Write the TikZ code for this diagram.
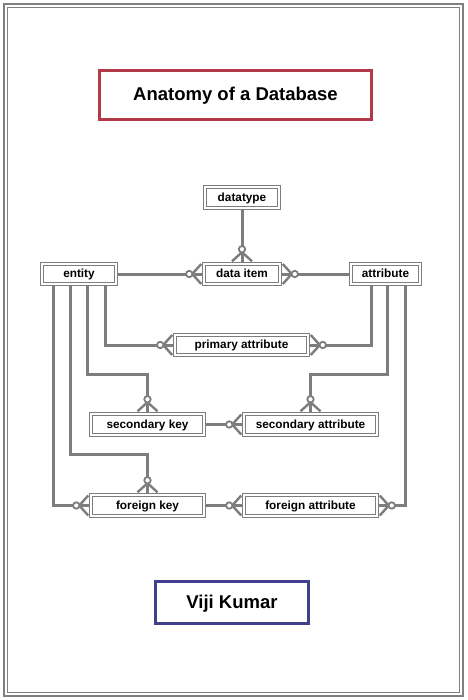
\documentclass[tikz,border=0pt]{standalone}
\usepackage{fontspec}
\setmainfont{Liberation Sans}
\usetikzlibrary{calc}
\pgfdeclarelayer{background}
\pgfsetlayers{background,main}
\definecolor{linegray}{RGB}{125,125,125}
\definecolor{titlered}{RGB}{178,58,72}
\definecolor{nameblue}{RGB}{64,64,140}
\tikzset{
  ent/.style={draw=linegray, double=white, double distance=1.2pt, line width=1.5pt,
    fill=white, font=\fontsize{11.8}{14}\selectfont\bfseries, inner sep=0pt, minimum height=20pt,
    text height=8.5pt, text depth=0.8pt},
  conn/.style={draw=linegray, line width=3pt},
  foot/.style={draw=linegray, line width=2.4pt},
  ringst/.style={draw=linegray, line width=1.8pt, fill=white},
  titlebox/.style={line width=2.6pt, inner sep=0pt, font=\fontsize{18.5}{22}\selectfont\bfseries,
    text height=13.5pt, text depth=2pt}
}
\newcommand{\crow}[3]{%
  \draw[foot] ($(#1)+({11*(#2)},{11*(#3)})$) -- ($(#1)+({2*(#2)+10*(#3)},{2*(#3)+10*(#2)})$);
  \draw[foot] ($(#1)+({11*(#2)},{11*(#3)})$) -- ($(#1)+({2*(#2)-10*(#3)},{2*(#3)-10*(#2)})$);
  \draw[ringst] ($(#1)+({14*(#2)},{14*(#3)})$) circle (3.2pt);
}
\begin{document}
\begin{tikzpicture}[x=1pt,y=-1pt]
\useasboundingbox (0,0) rectangle (467,700);
% frame
\draw[line width=2.2pt, color=gray] (4,4) rectangle (463,696);
\draw[line width=1.3pt, color=gray] (7.5,7.5) rectangle (459.5,692.5);
% titles
\node[titlebox, draw=titlered, minimum width=272.5pt, minimum height=49.5pt] (title) at (235.5,95) {Anatomy of a Database};
\node[titlebox, draw=nameblue, minimum width=153.5pt, minimum height=42.5pt] (author) at (232,602.5) {Viji Kumar};
% entities
\node[ent, minimum width=74pt] (entity) at (79,274) {entity};
\node[ent, minimum width=74pt, minimum height=21pt] (datatype) at (242,197.5) {datatype};
\node[ent, minimum width=76pt] (dataitem) at (242,274) {data item};
\node[ent, minimum width=69pt] (attribute) at (385.5,274) {attribute};
\node[ent, minimum width=133pt] (primattr) at (241.5,345) {primary attribute};
\node[ent, minimum width=113pt, minimum height=21pt] (seckey) at (147.5,424.5) {secondary key};
\node[ent, minimum width=133pt, minimum height=21pt] (secattr) at (310.5,424.5) {secondary attribute};
\node[ent, minimum width=113pt, minimum height=21pt] (forkey) at (147.5,505.5) {foreign key};
\node[ent, minimum width=133pt, minimum height=21pt] (forattr) at (310.5,505.5) {foreign attribute};
% connectors
\begin{pgfonlayer}{background}
\fill[white] (0,0) rectangle (467,700);
\draw[conn] (datatype) -- (dataitem);
\draw[conn] (entity) -- (dataitem);
\draw[conn] (dataitem) -- (attribute);
\draw[conn] ($(entity.south)+(26,0)$) |- (primattr.west);
\draw[conn] ($(entity.south)+(8,0)$) |- ($(seckey.north)+(0,-39)$) -- (seckey.north);
\draw[conn] ($(entity.south)+(-9,0)$) |- ($(forkey.north)+(0,-40)$) -- (forkey.north);
\draw[conn] ($(entity.south)+(-26,0)$) |- (forkey.west);
\draw[conn] ($(attribute.south)+(-14.5,0)$) |- (primattr.east);
\draw[conn] ($(attribute.south)+(1.5,0)$) |- ($(secattr.north)+(0,-39)$) -- (secattr.north);
\draw[conn] ($(attribute.south)+(19.5,0)$) |- (forattr.east);
\draw[conn] (seckey) -- (secattr);
\draw[conn] (forkey) -- (forattr);
\end{pgfonlayer}
% crow's feet
\crow{dataitem.north}{0}{-1}
\crow{dataitem.west}{-1}{0}
\crow{dataitem.east}{1}{0}
\crow{primattr.west}{-1}{0}
\crow{primattr.east}{1}{0}
\crow{seckey.north}{0}{-1}
\crow{secattr.north}{0}{-1}
\crow{secattr.west}{-1}{0}
\crow{forkey.west}{-1}{0}
\crow{forkey.north}{0}{-1}
\crow{forattr.west}{-1}{0}
\crow{forattr.east}{1}{0}
\end{tikzpicture}
\end{document}
